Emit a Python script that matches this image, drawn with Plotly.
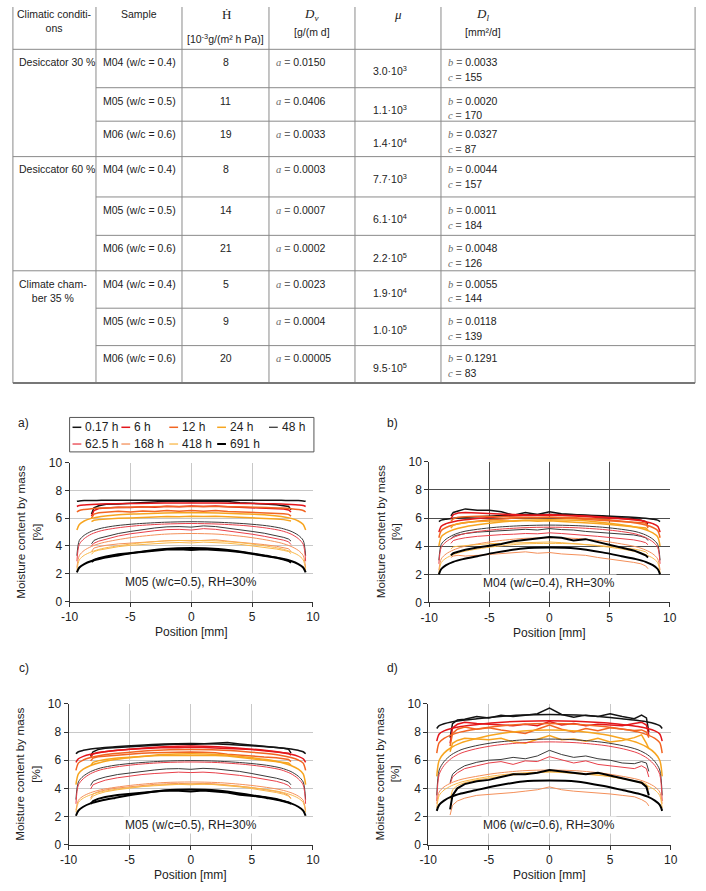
import plotly.graph_objects as go

# ---------------- table data ----------------
HEAD_COND = "Climatic conditi-<br>ons"
HEAD_SAMPLE = "Sample"
HEAD_H_SYM = "Ḣ"
HEAD_H_UNIT = "[10<sup>-3</sup>g/(m² h Pa)]"
HEAD_DV_SYM = "D<sub>v</sub>"
HEAD_DV_UNIT = "[g/(m d]"
HEAD_MU_SYM = "μ"
HEAD_DL_SYM = "D<sub>l</sub>"
HEAD_DL_UNIT = "[mm²/d]"

CONDITIONS = ["Desiccator 30 %", "Desiccator 60 %", "Climate cham-<br>ber 35 %"]
SAMPLES = ["M04 (w/c = 0.4)", "M05 (w/c = 0.5)", "M06 (w/c = 0.6)"] * 3
H_VALUES = [8, 11, 19, 8, 14, 21, 5, 9, 20]
DV_A = ["0.0150", "0.0406", "0.0033", "0.0003", "0.0007", "0.0002", "0.0023", "0.0004", "0.00005"]
MU_MANT = ["3.0", "1.1", "1.4", "7.7", "6.1", "2.2", "1.9", "1.0", "9.5"]
MU_EXP = [3, 3, 4, 3, 4, 5, 4, 5, 5]
DL_B = ["0.0033", "0.0020", "0.0327", "0.0044", "0.0011", "0.0048", "0.0055", "0.0118", "0.1291"]
DL_C = [155, 170, 87, 157, 184, 126, 144, 139, 83]

# ---------------- chart data ----------------
TIMES = ["0.17 h", "6 h", "12 h", "24 h", "48 h", "62.5 h", "168 h", "418 h", "691 h"]
PANEL_LABELS = ["a)", "b)", "c)", "d)"]
PANEL_TEXT = ["M05 (w/c=0.5), RH=30%", "M04 (w/c=0.4), RH=30%",
              "M05 (w/c=0.5), RH=30%", "M06 (w/c=0.6), RH=30%"]
X_TITLE = "Position [mm]"
Y_TITLE = "Moisture content by mass<br>[%]"
X_TICKS = [-10, -5, 0, 5, 10]
X_TICKTEXT = ["-10", "-5", "0", "5", "10"]
Y_TICKS = [0, 2, 4, 6, 8, 10]

MEAS_X = [-8.2, -8.0, -7.6, -7.0, -6.0, -5.0, -4.0, -3.0, -2.0, -1.0, 0.0,
          1.0, 2.0, 3.0, 4.0, 5.0, 6.0, 7.0, 7.6, 8.0, 8.2]
SIM_X_A = [-9.4, -9.2, -8.8, -8.2, -7.4, -6.2, -4.5, -2.2, 0, 2.2, 4.5, 6.2, 7.4, 8.2, 8.8, 9.2, 9.4]
SIM_X_B = [-9.2, -9.0, -8.6, -8.0, -7.2, -6.0, -4.4, -2.2, 0, 2.2, 4.4, 6.0, 7.2, 8.0, 8.6, 9.0, 9.2]
SIM_X_C = [-9.4, -9.2, -8.8, -8.2, -7.4, -6.2, -4.5, -2.2, 0, 2.2, 4.5, 6.2, 7.4, 8.2, 8.8, 9.2, 9.4]
SIM_X_D = [-9.3, -9.1, -8.7, -8.1, -7.3, -6.1, -4.5, -2.2, 0, 2.2, 4.5, 6.1, 7.3, 8.1, 8.7, 9.1, 9.3]

# panel a) M05, RH=30 %
SIM_A = [
    [7.22, 7.25, 7.27, 7.28, 7.29, 7.3, 7.3, 7.3, 7.3, 7.3, 7.3, 7.3, 7.29, 7.28, 7.27, 7.25, 7.22],
    [6.85, 6.92, 6.96, 6.99, 7.02, 7.05, 7.07, 7.09, 7.1, 7.09, 7.07, 7.05, 7.02, 6.99, 6.96, 6.92, 6.85],
    [6.45, 6.56, 6.63, 6.69, 6.74, 6.78, 6.81, 6.84, 6.85, 6.84, 6.81, 6.78, 6.74, 6.69, 6.63, 6.56, 6.45],
    [5.15, 5.55, 5.8, 5.99, 6.13, 6.24, 6.31, 6.38, 6.4, 6.38, 6.31, 6.24, 6.13, 5.99, 5.8, 5.55, 5.15],
    [3.3, 4.4, 4.77, 5.06, 5.28, 5.46, 5.6, 5.71, 5.75, 5.71, 5.6, 5.46, 5.28, 5.06, 4.77, 4.4, 3.3],
    [2.9, 4.12, 4.53, 4.86, 5.1, 5.29, 5.46, 5.58, 5.62, 5.58, 5.46, 5.29, 5.1, 4.86, 4.53, 4.12, 2.9],
    [2.45, 3.31, 3.68, 3.97, 4.21, 4.43, 4.66, 4.85, 4.9, 4.85, 4.66, 4.43, 4.21, 3.97, 3.68, 3.31, 2.45],
    [2.25, 3.0, 3.33, 3.58, 3.8, 3.99, 4.19, 4.36, 4.4, 4.36, 4.19, 3.99, 3.8, 3.58, 3.33, 3.0, 2.25],
    [2.1, 2.45, 2.7, 2.92, 3.1, 3.29, 3.54, 3.78, 3.85, 3.78, 3.54, 3.29, 3.1, 2.92, 2.7, 2.45, 2.1],
]
MEAS_A = [
    [6.3, 6.75, 6.9, 7.0, 7.02, 7.08, 7.12, 7.18, 7.22, 7.25, 7.2, 7.25, 7.24, 7.2, 7.12, 7.05, 7.02, 6.98, 6.92, 6.85, 6.6],
    [6.15, 6.55, 6.7, 6.75, 6.8, 6.78, 6.82, 6.8, 6.86, 6.82, 6.88, 6.84, 6.88, 6.83, 6.8, 6.78, 6.74, 6.7, 6.66, 6.6, 6.45],
    [6.0, 6.3, 6.4, 6.42, 6.5, 6.45, 6.52, 6.48, 6.55, 6.5, 6.56, 6.5, 6.55, 6.48, 6.45, 6.44, 6.4, 6.38, 6.33, 6.28, 6.15],
    [5.75, 5.85, 5.9, 5.95, 6.0, 6.02, 6.06, 6.08, 6.12, 6.1, 6.15, 6.12, 6.14, 6.1, 6.07, 6.04, 6.0, 5.95, 5.9, 5.85, 5.8],
    [4.15, 4.4, 4.55, 4.7, 4.9, 5.05, 5.2, 5.3, 5.38, 5.4, 5.36, 5.45, 5.4, 5.3, 5.18, 5.05, 4.92, 4.76, 4.62, 4.5, 4.35],
    [4.0, 4.2, 4.35, 4.5, 4.72, 4.88, 5.0, 5.1, 5.18, 5.2, 5.15, 5.25, 5.2, 5.1, 4.98, 4.85, 4.7, 4.55, 4.42, 4.3, 4.1],
    [3.6, 3.85, 3.95, 4.05, 4.15, 4.22, 4.3, 4.32, 4.38, 4.4, 4.36, 4.42, 4.45, 4.35, 4.28, 4.2, 4.1, 3.98, 3.88, 3.8, 3.6],
    [3.4, 3.6, 3.7, 3.8, 3.95, 4.05, 4.12, 4.18, 4.22, 4.25, 4.22, 4.28, 4.25, 4.2, 4.12, 4.02, 3.92, 3.78, 3.68, 3.6, 3.45],
    [2.85, 3.0, 3.12, 3.25, 3.4, 3.5, 3.6, 3.68, 3.75, 3.76, 3.72, 3.76, 3.73, 3.66, 3.56, 3.42, 3.3, 3.15, 3.02, 2.92, 2.8],
]

# panel b) M04, RH=30 %
SIM_B = [
    [5.75, 5.85, 5.92, 5.99, 6.04, 6.09, 6.16, 6.23, 6.25, 6.23, 6.16, 6.09, 6.04, 5.99, 5.92, 5.85, 5.75],
    [5.0, 5.42, 5.6, 5.74, 5.86, 5.97, 6.08, 6.18, 6.2, 6.18, 6.08, 5.97, 5.86, 5.74, 5.6, 5.42, 5.0],
    [4.6, 5.11, 5.33, 5.5, 5.64, 5.77, 5.91, 6.02, 6.05, 6.02, 5.91, 5.77, 5.64, 5.5, 5.33, 5.11, 4.6],
    [4.0, 4.66, 4.94, 5.17, 5.35, 5.52, 5.69, 5.84, 5.88, 5.84, 5.69, 5.52, 5.35, 5.17, 4.94, 4.66, 4.0],
    [3.0, 4.13, 4.5, 4.8, 5.03, 5.2, 5.35, 5.46, 5.5, 5.46, 5.35, 5.2, 5.03, 4.8, 4.5, 4.13, 3.0],
    [2.75, 3.92, 4.31, 4.62, 4.86, 5.04, 5.19, 5.31, 5.35, 5.31, 5.19, 5.04, 4.86, 4.62, 4.31, 3.92, 2.75],
    [2.3, 3.1, 3.45, 3.73, 3.96, 4.16, 4.37, 4.55, 4.6, 4.55, 4.37, 4.16, 3.96, 3.73, 3.45, 3.1, 2.3],
    [2.1, 2.84, 3.15, 3.4, 3.61, 3.8, 3.99, 4.16, 4.2, 4.16, 3.99, 3.8, 3.61, 3.4, 3.15, 2.84, 2.1],
    [2.0, 2.38, 2.65, 2.89, 3.08, 3.29, 3.56, 3.84, 3.9, 3.84, 3.56, 3.29, 3.08, 2.89, 2.65, 2.38, 2.0],
]
MEAS_B = [
    [6.15, 6.4, 6.5, 6.65, 6.55, 6.55, 6.45, 6.2, 6.4, 6.25, 6.45, 6.3, 6.25, 6.2, 6.15, 6.1, 6.05, 5.95, 5.85, 5.75, 5.6],
    [5.95, 6.25, 6.35, 6.4, 6.35, 6.3, 6.28, 6.25, 6.22, 6.2, 6.25, 6.2, 6.18, 6.15, 6.1, 6.05, 6.0, 5.9, 5.85, 5.75, 5.4],
    [5.75, 5.95, 6.05, 6.1, 6.12, 6.1, 6.05, 6.08, 6.04, 6.02, 6.05, 6.0, 5.98, 5.95, 5.9, 5.85, 5.8, 5.72, 5.68, 5.65, 5.3],
    [5.3, 5.5, 5.6, 5.68, 5.75, 5.78, 5.8, 5.78, 5.82, 5.78, 5.8, 5.75, 5.72, 5.68, 5.62, 5.55, 5.48, 5.4, 5.35, 5.3, 5.15],
    [4.5, 4.7, 4.8, 4.9, 5.0, 5.05, 5.1, 5.1, 5.2, 5.15, 5.25, 5.18, 5.15, 5.05, 5.0, 4.92, 4.85, 4.8, 4.7, 4.6, 4.4],
    [4.2, 4.4, 4.5, 4.6, 4.7, 4.78, 4.82, 4.85, 4.9, 4.88, 4.95, 4.9, 4.85, 4.78, 4.7, 4.62, 4.55, 4.45, 4.35, 4.25, 4.1],
    [3.2, 3.3, 3.35, 3.3, 3.35, 3.4, 3.45, 3.5, 3.6, 3.5, 3.55, 3.45, 3.4, 3.35, 3.2, 3.1, 3.0, 2.85, 2.75, 2.6, 2.4],
    [3.8, 3.95, 4.0, 4.05, 4.12, 4.18, 4.2, 4.22, 4.28, 4.25, 4.3, 4.25, 4.2, 4.15, 4.05, 3.98, 3.9, 3.8, 3.7, 3.6, 3.45],
    [3.35, 3.5, 3.6, 3.75, 3.9, 4.0, 4.15, 4.35, 4.45, 4.6, 4.65, 4.6, 4.4, 4.5, 4.3, 4.15, 3.95, 3.7, 3.5, 3.35, 3.2],
]

# panel c) M05, RH=30 %
SIM_C = [
    [6.45, 6.6, 6.7, 6.79, 6.87, 6.95, 7.05, 7.15, 7.18, 7.15, 7.05, 6.95, 6.87, 6.79, 6.7, 6.6, 6.45],
    [5.85, 6.1, 6.27, 6.42, 6.55, 6.68, 6.82, 6.96, 7.0, 6.96, 6.82, 6.68, 6.55, 6.42, 6.27, 6.1, 5.85],
    [5.27, 5.79, 6.01, 6.19, 6.34, 6.47, 6.6, 6.72, 6.75, 6.72, 6.6, 6.47, 6.34, 6.19, 6.01, 5.79, 5.27],
    [4.27, 5.03, 5.36, 5.62, 5.84, 6.04, 6.23, 6.41, 6.45, 6.41, 6.23, 6.04, 5.84, 5.62, 5.36, 5.03, 4.27],
    [3.2, 4.45, 4.86, 5.19, 5.44, 5.64, 5.8, 5.93, 5.97, 5.93, 5.8, 5.64, 5.44, 5.19, 4.86, 4.45, 3.2],
    [2.9, 4.24, 4.68, 5.04, 5.31, 5.51, 5.69, 5.83, 5.87, 5.83, 5.69, 5.51, 5.31, 5.04, 4.68, 4.24, 2.9],
    [2.45, 3.15, 3.45, 3.69, 3.89, 4.07, 4.25, 4.41, 4.45, 4.41, 4.25, 4.07, 3.89, 3.69, 3.45, 3.15, 2.45],
    [2.3, 3.0, 3.3, 3.54, 3.74, 3.92, 4.1, 4.26, 4.3, 4.26, 4.1, 3.92, 3.74, 3.54, 3.3, 3.0, 2.3],
    [2.05, 2.42, 2.69, 2.93, 3.12, 3.32, 3.58, 3.85, 3.92, 3.85, 3.58, 3.32, 3.12, 2.93, 2.69, 2.42, 2.05],
]
MEAS_C = [
    [6.3, 6.6, 6.75, 6.85, 6.9, 6.95, 7.05, 7.1, 7.15, 7.15, 7.12, 7.18, 7.2, 7.25, 7.15, 7.05, 6.98, 6.9, 6.85, 6.78, 6.5],
    [6.2, 6.45, 6.55, 6.62, 6.7, 6.78, 6.82, 6.85, 6.9, 6.88, 6.92, 6.9, 6.88, 6.85, 6.8, 6.75, 6.68, 6.62, 6.56, 6.5, 6.35],
    [5.95, 6.15, 6.25, 6.3, 6.38, 6.45, 6.5, 6.52, 6.55, 6.55, 6.58, 6.56, 6.52, 6.42, 6.38, 6.3, 6.22, 6.18, 6.1, 6.05, 5.9],
    [5.6, 5.85, 5.95, 6.05, 6.15, 6.22, 6.28, 6.32, 6.35, 6.35, 6.38, 6.36, 6.33, 6.3, 6.22, 6.1, 6.0, 5.92, 5.85, 5.8, 5.65],
    [4.2, 4.5, 4.65, 4.8, 4.98, 5.1, 5.22, 5.3, 5.38, 5.4, 5.35, 5.42, 5.38, 5.3, 5.2, 5.05, 4.9, 4.72, 4.58, 4.45, 4.25],
    [3.95, 4.25, 4.4, 4.58, 4.75, 4.88, 4.98, 5.05, 5.12, 5.15, 5.12, 5.15, 5.1, 5.02, 4.92, 4.8, 4.65, 4.5, 4.35, 4.2, 4.0],
    [3.3, 3.6, 3.75, 3.88, 4.02, 4.12, 4.2, 4.28, 4.32, 4.35, 4.32, 4.35, 4.32, 4.25, 4.15, 4.05, 3.92, 3.78, 3.65, 3.5, 3.3],
    [3.2, 3.45, 3.6, 3.75, 3.9, 4.02, 4.12, 4.18, 4.25, 4.28, 4.25, 4.3, 4.26, 4.2, 4.1, 3.98, 3.85, 3.7, 3.58, 3.45, 3.25],
    [2.9, 3.1, 3.25, 3.38, 3.52, 3.6, 3.72, 3.8, 3.85, 3.82, 3.78, 3.85, 3.8, 3.7, 3.55, 3.48, 3.38, 3.25, 3.12, 3.0, 2.9],
]

# panel d) M06, RH=30 %
SIM_D = [
    [8.25, 8.45, 8.59, 8.72, 8.82, 8.93, 9.07, 9.21, 9.25, 9.21, 9.07, 8.93, 8.82, 8.72, 8.59, 8.45, 8.25],
    [7.35, 7.86, 8.08, 8.25, 8.39, 8.52, 8.66, 8.77, 8.8, 8.77, 8.66, 8.52, 8.39, 8.25, 8.08, 7.86, 7.35],
    [6.5, 7.24, 7.55, 7.8, 8.01, 8.2, 8.39, 8.56, 8.6, 8.56, 8.39, 8.2, 8.01, 7.8, 7.55, 7.24, 6.5],
    [4.85, 6.0, 6.5, 6.9, 7.23, 7.52, 7.82, 8.08, 8.15, 8.08, 7.82, 7.52, 7.23, 6.9, 6.5, 6.0, 4.85],
    [3.5, 5.3, 5.9, 6.38, 6.74, 7.02, 7.26, 7.44, 7.5, 7.44, 7.26, 7.02, 6.74, 6.38, 5.9, 5.3, 3.5],
    [3.1, 4.99, 5.62, 6.12, 6.5, 6.8, 7.05, 7.24, 7.3, 7.24, 7.05, 6.8, 6.5, 6.12, 5.62, 4.99, 3.1],
    [2.9, 3.74, 4.1, 4.39, 4.63, 4.84, 5.06, 5.25, 5.3, 5.25, 5.06, 4.84, 4.63, 4.39, 4.1, 3.74, 2.9],
    [2.6, 3.49, 3.88, 4.18, 4.44, 4.67, 4.9, 5.1, 5.15, 5.1, 4.9, 4.67, 4.44, 4.18, 3.88, 3.49, 2.6],
    [2.4, 2.83, 3.13, 3.41, 3.63, 3.86, 4.16, 4.49, 4.55, 4.49, 4.16, 3.86, 3.63, 3.41, 3.13, 2.83, 2.4],
]
MEAS_D = [
    [7.6, 8.6, 8.85, 8.9, 9.1, 9.0, 9.2, 9.1, 9.2, 9.3, 9.7, 9.25, 9.05, 9.2, 9.1, 9.3, 9.1, 8.95, 9.2, 9.0, 8.0],
    [7.2, 8.3, 8.55, 8.7, 8.6, 8.55, 8.5, 8.45, 8.55, 8.45, 8.75, 8.5, 8.6, 8.45, 8.55, 8.5, 8.45, 8.6, 8.7, 8.5, 7.8],
    [7.0, 7.9, 8.2, 8.35, 8.2, 8.3, 8.15, 8.0, 7.9, 8.2, 8.5, 8.2, 8.0, 8.25, 8.1, 8.3, 8.2, 8.1, 8.15, 8.0, 7.6],
    [6.6, 7.2, 7.4, 7.55, 7.5, 7.45, 7.55, 7.3, 7.2, 7.5, 7.75, 7.45, 7.5, 7.35, 7.55, 7.3, 7.4, 7.6, 7.8, 7.2, 6.8],
    [4.4, 5.0, 5.3, 5.6, 5.85, 6.0, 6.05, 6.2, 6.1, 6.3, 6.7, 6.4, 6.2, 6.3, 6.1, 6.0, 5.8, 5.75, 5.9, 5.8, 5.2],
    [4.3, 4.8, 5.1, 5.4, 5.6, 5.8, 5.9, 5.7, 5.95, 5.9, 6.25, 6.0, 5.8, 5.95, 5.7, 5.6, 5.5, 5.4, 5.6, 5.4, 4.8],
    [2.1, 2.8, 3.1, 3.3, 3.5, 3.55, 3.6, 3.7, 3.8, 3.9, 4.1, 3.9, 3.8, 3.75, 3.7, 3.6, 3.5, 3.4, 3.2, 3.0, 2.75],
    [3.2, 3.9, 4.2, 4.4, 4.6, 4.75, 4.85, 4.95, 5.0, 5.1, 5.2, 5.1, 5.05, 5.0, 4.95, 4.85, 4.7, 4.55, 4.45, 4.3, 3.9],
    [2.5, 3.5, 4.0, 4.3, 4.5, 4.6, 4.8, 5.0, 5.0, 5.1, 5.3, 5.2, 5.1, 5.0, 5.1, 4.9, 4.7, 4.5, 4.4, 4.1, 3.5],
]

# ---------------- styles ----------------
TIME_COLORS = ["#141414", "#e3161b", "#f26522", "#f7a520", "#3a3a3a",
               "#e8404a", "#f4905a", "#f9b84a", "#000000"]
TIME_WIDTHS = [1.5, 1.5, 1.5, 1.5, 1.0, 1.0, 1.0, 1.0, 2.0]
SANS = "Liberation Sans, Arial, sans-serif"
SERIF = "Liberation Serif, Times New Roman, serif"
TSIZE = 10.5
INK = "#222222"
W, H = 706, 891


def X(px):
    return px / W


def Y(py):
    return 1 - py / H


fig = go.Figure()

panels = [
    (SIM_X_A, SIM_A, MEAS_A),
    (SIM_X_B, SIM_B, MEAS_B),
    (SIM_X_C, SIM_C, MEAS_C),
    (SIM_X_D, SIM_D, MEAS_D),
]
for p, (sx, sims, meas) in enumerate(panels):
    xa = "x" if p == 0 else f"x{p + 1}"
    ya = "y" if p == 0 else f"y{p + 1}"
    for i, t in enumerate(TIMES):
        fig.add_trace(go.Scatter(
            x=MEAS_X, y=meas[i], mode="lines", xaxis=xa, yaxis=ya, name=t,
            showlegend=False, hoverinfo="skip",
            line=dict(color=TIME_COLORS[i], width=TIME_WIDTHS[i])))
        fig.add_trace(go.Scatter(
            x=sx, y=sims[i], mode="lines", xaxis=xa, yaxis=ya, name=t,
            showlegend=False, hoverinfo="skip",
            line=dict(color=TIME_COLORS[i], width=TIME_WIDTHS[i],
                      shape="spline", smoothing=0.8)))

# plot-area pixel boxes: (left, right, top, bottom)
BOXES = [(62, 311, 463, 604), (430, 676, 462, 605), (61, 311, 708, 851), (429, 677, 708, 851)]
GRID = ["#c8c8c8", "#4d4d4d", "#c8c8c8", "#c8c8c8"]

layout = dict(
    width=W, height=H, margin=dict(l=0, r=0, t=0, b=0),
    paper_bgcolor="white", plot_bgcolor="white", showlegend=False,
    font=dict(family=SANS, color=INK, size=12),
)
for p, (l, r, t, b) in enumerate(BOXES):
    sfx = "" if p == 0 else str(p + 1)
    layout["xaxis" + sfx] = dict(
        domain=[X(l), X(r)], range=[-10, 10], tickmode="array",
        tickvals=X_TICKS, ticktext=X_TICKTEXT,
        anchor="y" + sfx, showgrid=True, gridcolor=GRID[p], gridwidth=1,
        zeroline=False, showline=True, linecolor="#333", linewidth=1,
        ticks="outside", ticklen=4, tickcolor="#333",
        tickfont=dict(size=12, family=SANS, color=INK), fixedrange=True)
    layout["yaxis" + sfx] = dict(
        domain=[Y(b), Y(t)], range=[0, 10], tickmode="array", tickvals=Y_TICKS,
        anchor="x" + sfx, showgrid=True, gridcolor=GRID[p], gridwidth=1,
        zeroline=False, showline=True, linecolor="#333", linewidth=1,
        ticks="outside", ticklen=4, tickcolor="#333",
        tickfont=dict(size=12, family=SANS, color=INK), fixedrange=True)
fig.update_layout(**layout)

ann = []
shapes = []


def txt(x, y, s, anchor="left", size=TSIZE, family=SANS, color=INK, **kw):
    ann.append(dict(x=X(x), y=Y(y), xref="paper", yref="paper", text=s,
                    showarrow=False, xanchor=anchor, yanchor="middle",
                    font=dict(size=size, family=family, color=color), **kw))


def hline(x0, x1, y, width=1, color="#8a8a8a"):
    shapes.append(dict(type="line", xref="paper", yref="paper", x0=X(x0), x1=X(x1),
                       y0=Y(y), y1=Y(y), line=dict(color=color, width=width)))


def vline(x, y0, y1, width=1, color="#8a8a8a"):
    shapes.append(dict(type="line", xref="paper", yref="paper", x0=X(x), x1=X(x),
                       y0=Y(y0), y1=Y(y1), line=dict(color=color, width=width)))


# ---------------- table ----------------
COLS = [4, 89, 177, 266, 354, 442, 702]
ROW_TOPS = [43, 82, 116, 152, 193, 232, 268, 306, 344]
TABLE_BOTTOM = 382
for cx in COLS:
    vline(cx, 0, TABLE_BOTTOM)
hline(COLS[0], COLS[-1], 43)
for k, rt in enumerate(ROW_TOPS[1:], start=1):
    if k % 3 == 0:
        hline(COLS[0], COLS[-1], rt)
    else:
        hline(COLS[1], COLS[-1], rt)
hline(COLS[0], COLS[-1], TABLE_BOTTOM, width=2, color="#777")

txt(47, 14, HEAD_COND, anchor="center")
txt(133, 7, HEAD_SAMPLE, anchor="center")
txt(223, 8, HEAD_H_SYM, anchor="center", size=13, family=SERIF)
txt(222, 32, HEAD_H_UNIT, anchor="center")
txt(310, 8, "<i>" + HEAD_DV_SYM + "</i>", anchor="center", size=13, family=SERIF)
txt(310, 25, HEAD_DV_UNIT, anchor="center")
txt(398, 8, "<i>" + HEAD_MU_SYM + "</i>", anchor="center", size=13, family=SERIF)
txt(484, 8, "<i>" + HEAD_DL_SYM + "</i>", anchor="center", size=13, family=SERIF)
txt(485, 25, HEAD_DL_UNIT, anchor="center")

LET = ('<span style="font-family:Liberation Serif;color:#6a6a6a"><i>{}</i></span>'
       '<span style="color:#6a6a6a"> =</span> {}')
for g, cond in enumerate(CONDITIONS):
    top = ROW_TOPS[3 * g]
    if "<br>" in cond:
        txt(8, top + 21, cond, anchor="left")
    else:
        txt(8, top + 13, cond, anchor="left")
for k in range(9):
    top = ROW_TOPS[k]
    y1 = top + 13
    txt(94, y1, SAMPLES[k], anchor="left")
    txt(222, y1, str(H_VALUES[k]), anchor="center")
    txt(271, y1, LET.format("a", DV_A[k]), anchor="left")
    txt(390, y1 + 9, f"{MU_MANT[k]}·10<sup>{MU_EXP[k]}</sup>", anchor="center")
    txt(447, y1, LET.format("b", DL_B[k]), anchor="left")
    txt(447, y1 + 15, LET.format("c", DL_C[k]), anchor="left")

# ---------------- chart decorations ----------------
LABEL_POS = [(15, 423), (392, 423), (15, 672), (392, 672)]
for p, (l, r, t, b) in enumerate(BOXES):
    lx, ly = LABEL_POS[p]
    txt(lx, ly, PANEL_LABELS[p], anchor="center", size=12)
    # y title
    ann.append(dict(x=X(l - 42), y=Y((t + b) / 2), xref="paper", yref="paper",
                    text=Y_TITLE, showarrow=False, textangle=-90,
                    xanchor="center", yanchor="middle",
                    font=dict(size=11.7, family=SANS, color=INK)))
    # x title
    txt((l + r) / 2, b + 31, X_TITLE, anchor="center", size=12)
    # inner caption
    sfx = "" if p == 0 else str(p + 1)
    ann.append(dict(x=0, y=1.42, xref="x" + sfx, yref="y" + sfx, text=PANEL_TEXT[p],
                    showarrow=False, xanchor="center", yanchor="middle",
                    bgcolor="white", borderpad=1,
                    font=dict(size=12, family=SANS, color=INK)))

# legend of panel a
shapes.append(dict(type="rect", xref="paper", yref="paper", x0=X(62), x1=X(312),
                   y0=Y(452), y1=Y(417), line=dict(color="#555", width=1),
                   fillcolor="white"))
LEG_COLS = [65, 115, 164, 213, 266]
LEG_ROWS = [427, 444]
for i, t in enumerate(TIMES):
    row, col = divmod(i, 5)
    x0 = LEG_COLS[col]
    yy = LEG_ROWS[row]
    shapes.append(dict(type="line", xref="paper", yref="paper", x0=X(x0), x1=X(x0 + 9),
                       y0=Y(yy), y1=Y(yy),
                       line=dict(color=TIME_COLORS[i], width=max(TIME_WIDTHS[i], 1.3))))
    txt(x0 + 11, yy, t, anchor="left", size=12)

fig.update_layout(annotations=ann, shapes=shapes)
fig.write_html("out.html")
